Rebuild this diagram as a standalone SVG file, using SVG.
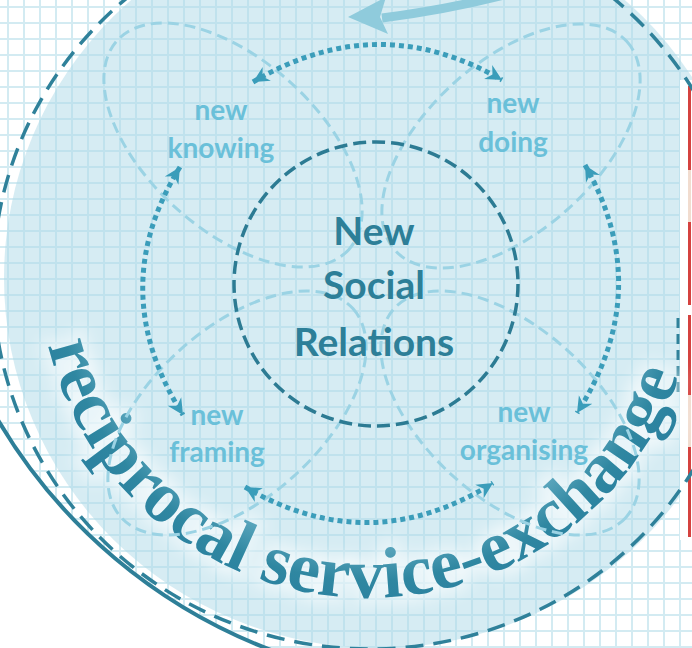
<svg xmlns="http://www.w3.org/2000/svg" width="692" height="648" viewBox="0 0 692 648">
<defs>
<pattern id="grid" x="0" y="0" width="16" height="16" patternUnits="userSpaceOnUse">
<rect x="7" y="0" width="2" height="16" fill="#d3ebf2"/>
<rect x="0" y="6" width="16" height="2" fill="#d3ebf2"/>
</pattern>
<marker id="ah" viewBox="-16 -9 18 18" refX="0" refY="0" markerWidth="18" markerHeight="18" markerUnits="userSpaceOnUse" orient="auto-start-reverse">
<path d="M0,0 L-16,-8 L-11,0 L-16,8 Z" fill="#3a9dba"/>
</marker>
<filter id="glow" x="-20%" y="-20%" width="140%" height="140%">
<feGaussianBlur stdDeviation="7"/>
</filter>
<radialGradient id="tg" gradientUnits="userSpaceOnUse" cx="368" cy="269" r="335">
<stop offset="0.82" stop-color="#5ea8bf"/>
<stop offset="0.93" stop-color="#2f87a1"/>
<stop offset="1" stop-color="#2b82a0"/>
</radialGradient>
<path id="tp" d="M 48 345.2 A 329 329 0 0 0 680.3 372.3" fill="none"/>
</defs>
<style>
.petal{fill:none;stroke:#9bd3e4;stroke-width:3;stroke-dasharray:11 6}
.lab{font-family:Lato,"Open Sans",sans-serif;font-weight:bold;font-size:28px;fill:#6ac0d9;text-anchor:middle}
.ctr{font-family:Lato,"Open Sans",sans-serif;font-weight:bold;font-size:39px;fill:#2d7f98;text-anchor:middle}
.dot{fill:none;stroke:#3b9dba;stroke-width:5;stroke-dasharray:5 4;marker-start:url(#ah);marker-end:url(#ah)}
</style>
<rect width="692" height="648" fill="#ffffff"/>
<rect width="692" height="648" fill="url(#grid)"/>
<ellipse cx="378" cy="278" rx="374" ry="370" fill="#add9e7" fill-opacity="0.5"/>
<path d="M -2 420 A 540 540 0 0 0 271 650 L -2 650 Z" fill="#ffffff"/>
<g id="panel">
<rect x="680" y="80" width="12" height="460" fill="#ffffff"/>
<rect x="688" y="86" width="3" height="84" fill="#d5423f"/>
<rect x="688" y="170" width="3" height="52" fill="#f1dccf"/>
<rect x="688" y="222" width="3" height="83" fill="#d5423f"/>
<rect x="688" y="315" width="3" height="80" fill="#d5423f"/>
<rect x="688" y="395" width="3" height="52" fill="#f1dccf"/>
<rect x="688" y="447" width="3" height="90" fill="#d5423f"/>
<line x1="678" y1="318" x2="678" y2="396" stroke="#2f819a" stroke-width="3" stroke-dasharray="10 6"/>
</g>
<g id="outer-ring">
<ellipse cx="370" cy="280" rx="377" ry="369" fill="none" stroke="#2f819a" stroke-width="3.5" stroke-dasharray="18 10"/>
<path d="M -2 420 A 540 540 0 0 0 271 650" fill="none" stroke="#2e7f98" stroke-width="4"/>
</g>
<g id="exchange-label">
<text font-family="Liberation Serif,serif" font-weight="bold" font-size="72" fill="none" stroke="#ffffff" stroke-width="16" stroke-opacity="0.45" filter="url(#glow)"><textPath href="#tp">reciprocal service-exchange</textPath></text>
<text font-family="Liberation Serif,serif" font-weight="bold" font-size="72" fill="url(#tg)"><textPath href="#tp">reciprocal service-exchange</textPath></text>
</g>
<g id="knowing">
<ellipse class="petal" cx="233" cy="145" rx="156" ry="85" transform="rotate(42 233 145)"/>
<text class="lab" x="221" y="120">new</text>
<text class="lab" x="221" y="158">knowing</text>
</g>
<g id="doing">
<ellipse class="petal" cx="511" cy="146" rx="156" ry="85" transform="rotate(-42 511 146)"/>
<text class="lab" x="513" y="113">new</text>
<text class="lab" x="513" y="152">doing</text>
</g>
<g id="framing">
<ellipse class="petal" cx="237" cy="413" rx="156" ry="85" transform="rotate(-42 237 413)"/>
<text class="lab" x="217" y="425">new</text>
<text class="lab" x="217" y="462">framing</text>
</g>
<g id="organising">
<ellipse class="petal" cx="510" cy="413" rx="156" ry="85" transform="rotate(42 510 413)"/>
<text class="lab" x="524" y="422">new</text>
<text class="lab" x="524" y="460">organising</text>
</g>
<g id="social-relations">
<circle cx="376" cy="284" r="142" fill="none" stroke="#2c7b93" stroke-width="3.5" stroke-dasharray="13 6"/>
<text class="ctr" x="374" y="245">New</text>
<text class="ctr" x="374" y="299">Social</text>
<text class="ctr" x="374" y="356">Relations</text>
</g>
<g id="connectors">
<path class="dot" d="M 253 82 Q 378 8 502 80"/>
<path class="dot" d="M 585 165 Q 656 290 577 413"/>
<path class="dot" d="M 245 487 Q 370 560 493 483"/>
<path class="dot" d="M 180 167 Q 104 290 183 415"/>
<path d="M 530 -12 Q 460 8 382 18" fill="none" stroke="#8fcbdc" stroke-width="9"/>
<polygon points="348,17 386,-3 380,17 388,34" fill="#8fcbdc"/>
</g>
</svg>
